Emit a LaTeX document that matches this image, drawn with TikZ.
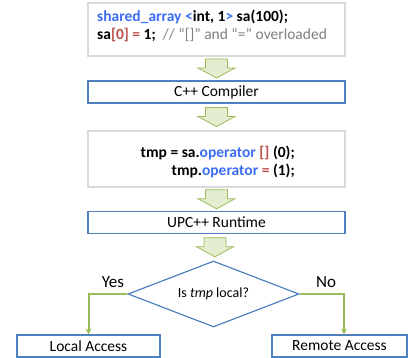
\documentclass[tikz,border=0pt]{standalone}
\usepackage{fontspec}
\setmainfont{Carlito}
\usetikzlibrary{shapes.geometric, arrows.meta, calc}

\definecolor{boxblue}{HTML}{4F81BD}
\definecolor{boxgray}{HTML}{D9D9D9}
\definecolor{flowgreen}{HTML}{9BBB59}
\definecolor{flowfill}{HTML}{E4EDD0}
\definecolor{codeblue}{HTML}{3D6DF5}
\definecolor{codered}{HTML}{C0504D}
\definecolor{codegray}{HTML}{808080}

\begin{document}
\begin{tikzpicture}[
									x = 1pt,
									y = -1pt,
									codebox/.style = {
										draw = boxgray,
										rectangle,
										fill = white,
										line width = 1.2pt,
										inner sep = 0,
										minimum width = 257pt
									},
									stepbox/.style = {
										draw = boxblue,
										rectangle,
										fill = white,
										line width = 1.2pt,
										inner sep = 0,
										minimum width = 257pt,
										minimum height = 22pt,
										font = \fontsize{15.5}{18}\selectfont
									},
									endbox/.style = {
										stepbox,
										minimum width = 135pt
									},
									test/.style = {
										draw = boxblue,
										diamond,
										aspect = 2.6,
										line width = 1.2pt,
										inner sep = 0,
										minimum width = 171pt,
										minimum height = 66pt,
										font = \fontsize{14}{16}\selectfont
									},
									code/.style = {
										inner sep = 0,
										font = \fontsize{15.5}{18}\selectfont\bfseries
									},
									answer/.style = {
										inner sep = 0,
										font = \fontsize{17}{19}\selectfont
									},
									branch/.style = {
										draw = flowgreen,
										line width = 2pt,
										-{Stealth[length = 6pt, width = 6pt]}
									},
									flow/.pic = {
										\path [draw = flowgreen, fill = flowfill, line width = 0.8pt, line join = miter]
											(-11, -9.5) -- (11, -9.5) -- (11, -0.5) -- (18.5, -0.5) -- (0, 9.5)
											-- (-18.5, -0.5) -- (-11, -0.5) -- cycle;
									}
								]
							\useasboundingbox (0, 0) rectangle (408, 358);

							\node [codebox, minimum height = 53pt] (src) at (216.5, 29.5) {};
							\node [code, anchor = west, align = left] (srctext) at (97, 26) {%
								{\color{codeblue}shared\_array <}int, 1{\color{codeblue}>} sa(100);\\
								sa{\color{codered}[0] =} 1;\ \ {\mdseries\color{codegray}// “[]” and “=” overloaded}};

							\node [stepbox, minimum width = 257pt] (comp) at (216.5, 92) {C++ Compiler};

							\node [codebox, minimum height = 56pt] (gen) at (216.5, 159) {};
							\node [code, anchor = east, align = right] (gentext) at (295, 162) {%
								tmp = sa.{\color{codeblue}operator} {\color{codered}[]} (0);\\
								tmp.{\color{codeblue}operator} {\color{codered}=} (1);};

							\node [stepbox] (run) at (216.5, 222.5) {UPC++ Runtime};

							\node [test] (dec) at (213.5, 294) {Is \textit{tmp} local?};

							\node [endbox, minimum width = 143pt] (loc) at (88.5, 346) {Local Access};
							\node [endbox] (rem) at (339.5, 346) {Remote Access};

							\path ($(src.south)!0.5!(comp.north)$) pic {flow};
							\path ($(comp.south)!0.5!(gen.north)$) pic {flow};
							\path ($(gen.south)!0.5!(run.north)$) pic {flow};
							\path ($(run.south)!0.5!(dec.north)$) pic {flow};

							\draw [branch] (dec.west) -| (loc.north);
							\draw [branch] (dec.east) -| ($(rem.north) + (4.5, 0)$);

							\node [answer] (yes) at (113, 282) {Yes};
							\node [answer] (no) at (326, 282) {No};
						\end{tikzpicture}
\end{document}
